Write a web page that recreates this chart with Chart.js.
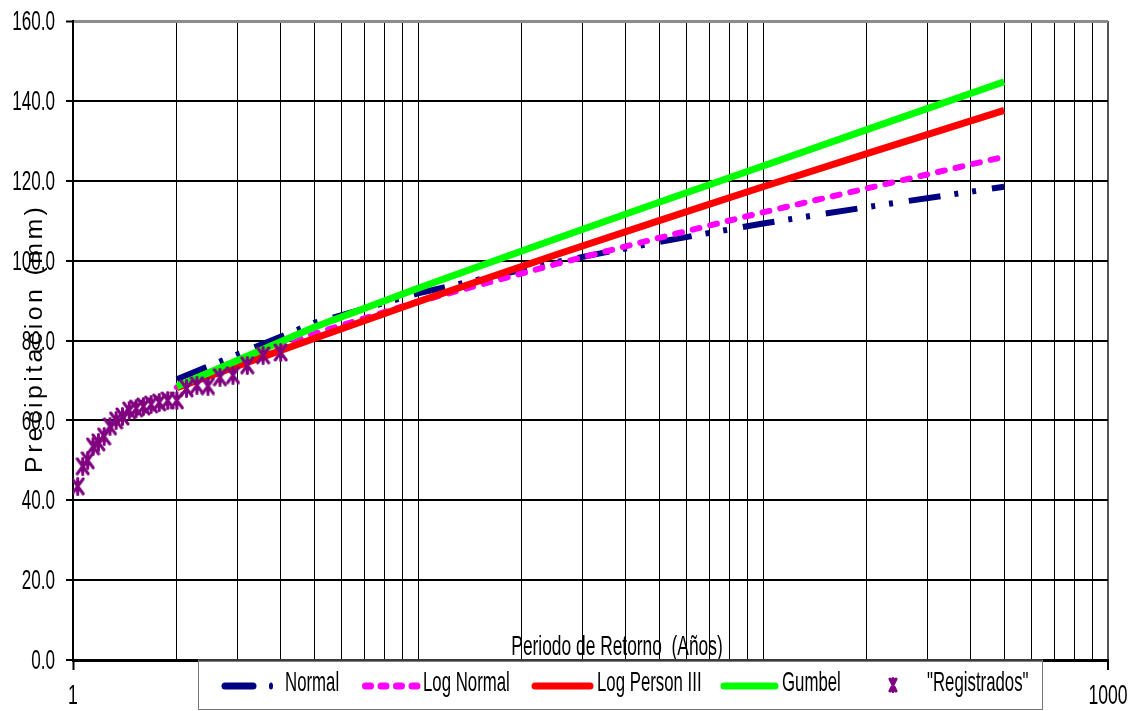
<!DOCTYPE html>
<html>
<head>
<meta charset="utf-8">
<script src="https://cdn.jsdelivr.net/npm/chart.js@4.4.1/dist/chart.umd.min.js"></script>
<style>
  html, body { margin: 0; padding: 0; background: #fff; }
  #wrap { width: 1141px; height: 711px; position: relative; }
</style>
</head>
<body>
<div id="wrap"><canvas id="chart"></canvas></div>
<script>
// periodos de retorno de las curvas ajustadas (años)
const periods = [2, 5, 10, 25, 50, 100, 200, 500];
const normal = [70.3, 84.4, 91.8, 99.6, 104.7, 109.3, 113.4, 118.5];
const logNormal = [68.3, 81.7, 89.7, 99.1, 105.7, 112.1, 118.1, 126.0];
const logPearson = [68.2, 80.5, 89.7, 101.4, 110.0, 118.5, 126.8, 137.6];
const gumbel = [68.5, 83.3, 93.1, 105.4, 114.6, 123.7, 132.8, 144.8];

// precipitaciones registradas
const regPeriods = [1.032, 1.067, 1.103, 1.143, 1.185, 1.231, 1.280, 1.333, 1.391, 1.455, 1.524, 1.600,
  1.684, 1.778, 1.882, 2.000, 2.133, 2.286, 2.462, 2.667, 2.909, 3.200, 3.556, 4.000];
const registrados = [43.5, 48.5, 50.0, 53.5, 54.5, 56.0, 58.5, 60.0, 61.0, 62.5, 63.0, 63.5,
  64.0, 64.5, 65.0, 65.0, 68.0, 68.8, 68.6, 70.8, 71.3, 73.8, 76.3, 77.0];

// ejes
const xGrid = [1, 2, 3, 4, 5, 6, 7, 8, 9, 10, 20, 30, 40, 50, 60, 70, 80, 90,
  100, 200, 300, 400, 500, 600, 700, 800, 900, 1000];
const xLabels = [1, 1000];
const yTicks = [0, 20, 40, 60, 80, 100, 120, 140, 160];

const SANS = '"Liberation Sans", Arial, sans-serif';
const PURPLE = '#800080';

// texto angosto (Arial Narrow no esta instalada)
function narrowText(ctx, text, x, y, size, align, sx) {
  ctx.save();
  ctx.translate(x, y);
  ctx.scale(sx, 1);
  ctx.font = size + 'px ' + SANS;
  ctx.textAlign = align;
  ctx.fillText(text, 0, 0);
  ctx.restore();
}

function starMarker(w, h, lw) {
  const c = document.createElement('canvas');
  c.width = w; c.height = h;
  const g = c.getContext('2d');
  g.strokeStyle = PURPLE;
  g.lineWidth = lw;
  g.lineCap = 'round';
  g.beginPath();
  g.moveTo(2, 2); g.lineTo(w - 2, h - 2);
  g.moveTo(w - 2, 2); g.lineTo(2, h - 2);
  g.moveTo(w / 2, 1.5); g.lineTo(w / 2, h - 1.5);
  g.stroke();
  return c;
}

function pts(xs, ys) {
  return xs.map((x, i) => ({x: x, y: ys[i]}));
}

const overlay = {
  id: 'overlay',
  afterDraw(chart) {
    const ctx = chart.ctx;
    const sx = chart.scales.x, sy = chart.scales.y;
    ctx.save();
    ctx.fillStyle = '#000';
    ctx.textBaseline = 'middle';

    // etiquetas de los ejes
    sy.ticks.forEach(t => {
      narrowText(ctx, t.label, 55, sy.getPixelForValue(t.value) + 1.5, 28, 'right', 0.61);
    });
    sx.ticks.forEach(t => {
      if (t.label) narrowText(ctx, t.label, sx.getPixelForValue(t.value), 696, 28, 'center', 0.63);
    });

    // titulo eje x
    ctx.textBaseline = 'alphabetic';
    narrowText(ctx, 'Periodo de Retorno  (Años)', 617, 655, 28, 'center', 0.62);

    // titulo eje y, letras espaciadas
    ctx.save();
    ctx.translate(42, 340);
    ctx.rotate(-Math.PI / 2);
    ctx.scale(1.08, 1);
    ctx.font = '23px ' + SANS;
    ctx.textAlign = 'left';
    const txt = 'Precipitacion (mm)';
    const gap = 3.2;
    let total = -gap;
    for (const ch of txt) total += ctx.measureText(ch).width + gap;
    let px = -total / 2;
    for (const ch of txt) {
      ctx.fillText(ch, px, 0);
      px += ctx.measureText(ch).width + gap;
    }
    ctx.restore();

    // leyenda
    const cy = 686;
    ctx.fillStyle = '#fff';
    ctx.fillRect(198, 661.5, 845, 48);
    ctx.strokeStyle = '#777';
    ctx.lineWidth = 1;
    ctx.strokeRect(198.5, 660, 844, 49.5);

    ctx.lineWidth = 7;
    ctx.lineCap = 'round';
    ctx.strokeStyle = '#000080';
    ctx.beginPath(); ctx.moveTo(225, cy); ctx.lineTo(253, cy); ctx.stroke();
    ctx.fillStyle = '#000080';
    ctx.beginPath(); ctx.ellipse(271, cy, 2, 3.5, 0, 0, Math.PI * 2); ctx.fill();

    ctx.strokeStyle = '#ff00ff';
    [368, 383.5, 399, 414.5].forEach(c => {
      ctx.beginPath(); ctx.moveTo(c - 2.5, cy); ctx.lineTo(c + 2.5, cy); ctx.stroke();
    });

    ctx.strokeStyle = '#ff0000';
    ctx.beginPath(); ctx.moveTo(535, cy); ctx.lineTo(590, cy); ctx.stroke();
    ctx.strokeStyle = '#00ff00';
    ctx.beginPath(); ctx.moveTo(724, cy); ctx.lineTo(775, cy); ctx.stroke();

    ctx.drawImage(starMarker(10, 16, 3), 888, cy - 9);

    ctx.fillStyle = '#000';
    ctx.textBaseline = 'middle';
    const ds = chart.data.datasets;
    const lx = [285, 423, 597, 782, 927];
    ds.forEach((d, i) => narrowText(ctx, d.label, lx[i], cy - 2.5, 28, 'left', 0.6));
    ctx.restore();
  }
};

new Chart(document.getElementById('chart'), {
  type: 'scatter',
  data: {
    datasets: [
      {
        label: 'Normal',
        data: pts(periods, normal),
        showLine: true,
        borderColor: '#000080',
        borderWidth: 6,
        borderDash: [32, 14, 4, 14, 4, 16],
        pointRadius: 0,
        order: 4
      },
      {
        label: 'Log Normal',
        data: pts(periods, logNormal),
        showLine: true,
        borderColor: '#ff00ff',
        borderWidth: 6,
        borderDash: [7, 11],
        borderCapStyle: 'round',
        pointRadius: 0,
        order: 3
      },
      {
        label: 'Log Person III',
        data: pts(periods, logPearson),
        showLine: true,
        borderColor: '#ff0000',
        borderWidth: 7,
        pointRadius: 0,
        order: 2
      },
      {
        label: 'Gumbel',
        data: pts(periods, gumbel),
        showLine: true,
        borderColor: '#00ff00',
        borderWidth: 7,
        pointRadius: 0,
        order: 1
      },
      {
        label: '"Registrados"',
        data: pts(regPeriods, registrados),
        showLine: false,
        pointStyle: starMarker(15, 19, 3),
        pointRadius: 8,
        order: 0
      }
    ]
  },
  options: {
    responsive: true,
    maintainAspectRatio: false,
    animation: false,
    events: [],
    layout: { padding: { top: 21, right: 33, bottom: 0, left: 0 } },
    plugins: {
      legend: { display: false },
      tooltip: { enabled: false }
    },
    scales: {
      x: {
        type: 'logarithmic',
        min: 1,
        max: 1000,
        afterBuildTicks: s => { s.ticks = xGrid.map(v => ({value: v})); },
        afterFit: s => { s.height = 51; },
        ticks: {
          autoSkip: false,
          maxRotation: 0,
          padding: 11,
          color: 'rgba(0,0,0,0)',
          font: { family: SANS, size: 16 },
          callback: v => xLabels.includes(v) ? String(v) : ''
        },
        grid: {
          color: c => c.tick && c.tick.value === 1000 ? '#555' : '#000',
          lineWidth: c => c.tick && (c.tick.value === 1000) ? 2 : 1,
          tickLength: 10,
          tickWidth: 2,
          tickColor: c => c.tick && xLabels.includes(c.tick.value) ? '#000' : 'rgba(0,0,0,0)'
        },
        border: { color: '#000', width: 3 }
      },
      y: {
        min: 0,
        max: 160,
        afterBuildTicks: s => { s.ticks = yTicks.map(v => ({value: v})); },
        afterFit: s => { s.width = 73; },
        ticks: {
          padding: 9,
          color: 'rgba(0,0,0,0)',
          font: { family: SANS, size: 16 },
          callback: v => v.toFixed(1)
        },
        grid: {
          color: c => c.tick && c.tick.value === 160 ? '#8c8c8c' : '#000',
          lineWidth: c => c.tick && c.tick.value === 160 ? 3 : 2,
          tickLength: 7,
          tickColor: '#000',
          tickWidth: 2
        },
        border: { color: '#000', width: 2 }
      }
    }
  },
  plugins: [overlay]
});
</script>
</body>
</html>
